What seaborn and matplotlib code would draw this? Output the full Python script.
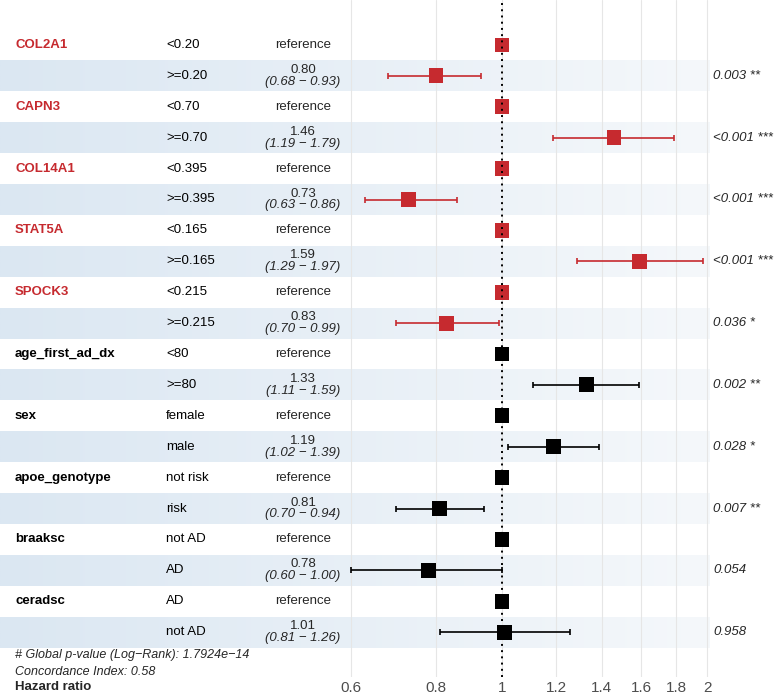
import numpy as np
import pandas as pd
import matplotlib
matplotlib.use('Agg')
import matplotlib.pyplot as plt
import matplotlib.transforms as mtransforms
import seaborn as sns

# model terms (reference level first, then the compared level)
variables = ['COL2A1', 'CAPN3', 'COL14A1', 'STAT5A', 'SPOCK3',
             'age_first_ad_dx', 'sex', 'apoe_genotype', 'braaksc', 'ceradsc']
ref_levels = ['<0.20', '<0.70', '<0.395', '<0.165', '<0.215',
              '<80', 'female', 'not risk', 'not AD', 'AD']
alt_levels = ['>=0.20', '>=0.70', '>=0.395', '>=0.165', '>=0.215',
              '>=80', 'male', 'risk', 'AD', 'not AD']
hr = [0.80, 1.46, 0.73, 1.59, 0.83, 1.33, 1.19, 0.81, 0.78, 1.01]
ci_low = [0.68, 1.19, 0.63, 1.29, 0.70, 1.11, 1.02, 0.70, 0.60, 0.81]
ci_high = [0.93, 1.79, 0.86, 1.97, 0.99, 1.59, 1.39, 0.94, 1.00, 1.26]
p_labels = ['0.003 **', '<0.001 ***', '<0.001 ***', '<0.001 ***', '0.036 *',
            '0.002 **', '0.028 *', '0.007 **', '0.054', '0.958']
is_gene = [True] * 5 + [False] * 5
x_ticks = [0.6, 0.8, 1, 1.2, 1.4, 1.6, 1.8, 2]
x_ticklabels = ['0.6', '0.8', '1', '1.2', '1.4', '1.6', '1.8', '2']
global_p = '# Global p-value (Log\u2212Rank): 1.7924e\u221214'
cindex = 'Concordance Index: 0.58'

RED = '#c62a2f'
sns.set_theme(style='white')
plt.rcParams['font.family'] = ['Liberation Sans', 'DejaVu Sans']

# long table: one row per level
rows = []
for i, v in enumerate(variables):
    col = RED if is_gene[i] else 'black'
    rows.append(dict(var=v, level=ref_levels[i], hr=1.0, lo=np.nan, hi=np.nan,
                     ref=True, color=col, pos=2 * i, p=''))
    rows.append(dict(var='', level=alt_levels[i], hr=hr[i], lo=ci_low[i], hi=ci_high[i],
                     ref=False, color=col, pos=2 * i + 1, p=p_labels[i]))
df = pd.DataFrame(rows)

fig = plt.figure(figsize=(7.76, 6.96), dpi=100)
W, H = 776, 696
ax_bottom_px = 677
rect = [0, (H - ax_bottom_px) / H, 1, ax_bottom_px / H]

row_h = 30.9
first_row_px = 45
ylim = ((ax_bottom_px - first_row_px) / row_h, -first_row_px / row_h)

# background stripes with a left-to-right fade
bg = fig.add_axes(rect, zorder=0)
bg.set_xlim(0, 1)
bg.set_ylim(*ylim)
bg.axis('off')
grad = np.linspace(0, 1, 256)
c0 = np.array([219, 231, 242]) / 255
c1 = np.array([245, 248, 251]) / 255
img = (c0[None, :] * (1 - grad[:, None]) + c1[None, :] * grad[:, None])[None, :, :]
for p in df.loc[~df['ref'], 'pos']:
    bg.imshow(img, extent=(0, 710 / W, p + 0.5, p - 0.5), aspect='auto', interpolation='bilinear')

ax = fig.add_axes(rect, zorder=1)
ax.patch.set_alpha(0)
ax.set_xscale('log')
x_left = np.exp(-502 / 296)
x_right = np.exp((W - 502) / 296)
ax.set_xlim(x_left, x_right)
ax.set_ylim(*ylim)

for t in x_ticks:
    ax.axvline(t, color='#e6e6e6', lw=0.8, zorder=0)
ax.axvline(1, color='black', ls=(0, (1, 2.2)), lw=1.4, zorder=5)

# confidence intervals
for _, r in df[~df['ref']].iterrows():
    ax.errorbar(r['hr'], r['pos'], xerr=[[r['hr'] - r['lo']], [r['hi'] - r['hr']]],
                fmt='none', ecolor=r['color'], elinewidth=1.2, capsize=2.2, capthick=1.2, zorder=2)

sns.scatterplot(data=df, x='hr', y='pos', hue='color', palette={RED: RED, 'black': 'black'},
                marker='s', s=115, linewidth=0, legend=False, ax=ax, zorder=3)

ax.set_xticks(x_ticks)
ax.set_xticklabels(x_ticklabels)
ax.xaxis.set_minor_locator(matplotlib.ticker.NullLocator())
ax.tick_params(axis='x', length=0, pad=3, labelsize=11, labelcolor='#4d4d4d')
ax.set_yticks([])
ax.set_xlabel('')
ax.set_ylabel('')
for s in ax.spines.values():
    s.set_visible(False)

trans = mtransforms.blended_transform_factory(ax.transAxes, ax.transData)
fs = 9.5
for _, r in df.iterrows():
    y = r['pos']
    if r['var']:
        ax.text(15 / W, y, r['var'], transform=trans, ha='left', va='center',
                fontsize=fs, fontweight='bold', color=r['color'])
    ax.text(166 / W, y, r['level'], transform=trans, ha='left', va='center', fontsize=fs, color='black')
    if r['ref']:
        ax.text(303 / W, y, 'reference', transform=trans, ha='center', va='center', fontsize=fs)
    else:
        ax.text(303 / W, y - 0.19, f"{r['hr']:.2f}", transform=trans, ha='center', va='center', fontsize=fs)
        ax.text(303 / W, y + 0.19, f"({r['lo']:.2f} \u2212 {r['hi']:.2f})", transform=trans,
                ha='center', va='center', fontsize=fs, style='italic')
        ax.text(713 / W, y, r['p'], transform=trans, ha='left', va='center', fontsize=fs, style='italic')

ax.text(15 / W, (655 - first_row_px) / row_h, global_p, transform=trans, ha='left', va='center',
        fontsize=9, style='italic')
ax.text(15 / W, (672 - first_row_px) / row_h, cindex, transform=trans, ha='left', va='center',
        fontsize=9, style='italic')
fig.text(15 / W, 1 - 687 / H, 'Hazard ratio', ha='left', va='center', fontsize=9.5, fontweight='bold')

fig.savefig('out.png', dpi=100)
